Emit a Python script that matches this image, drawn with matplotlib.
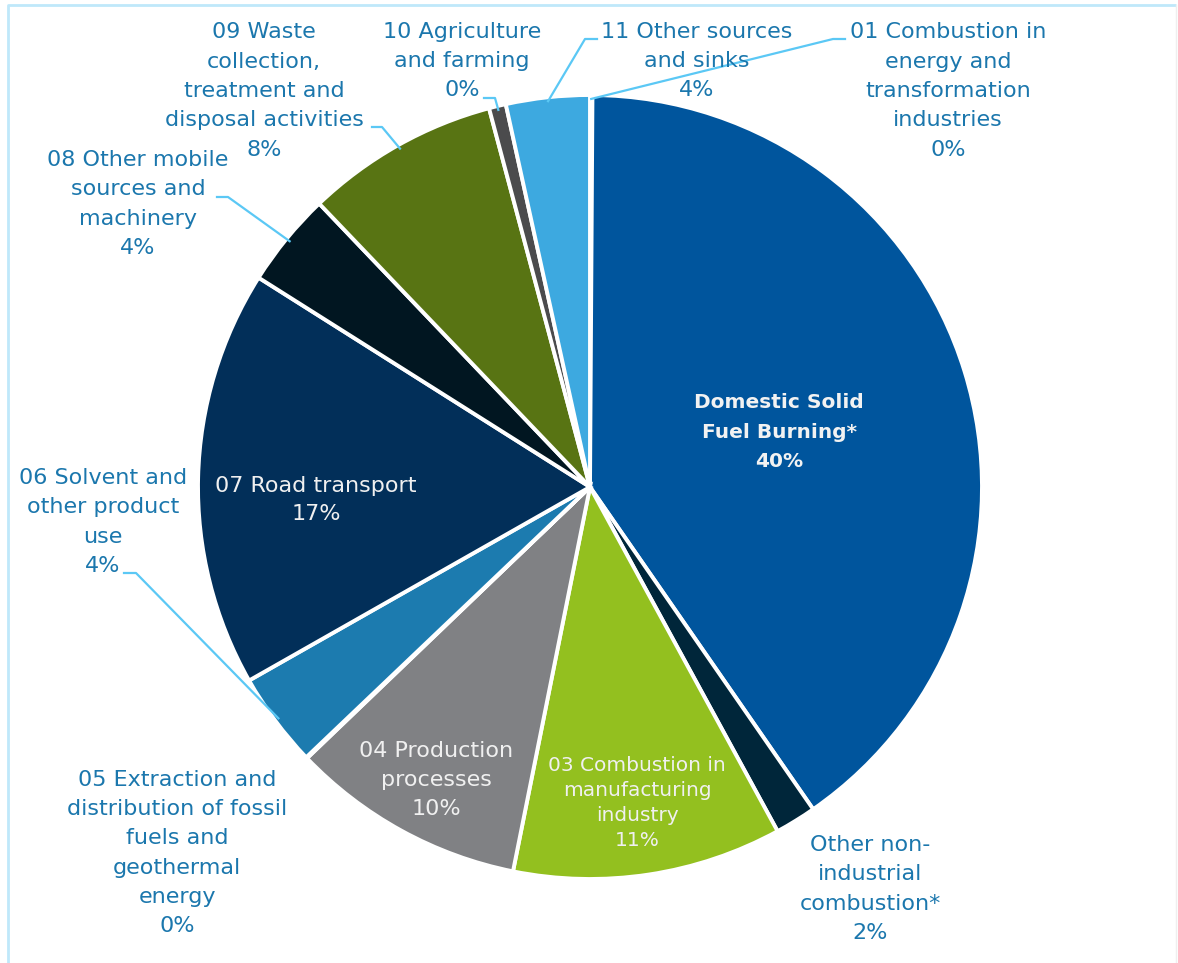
import numpy as np
import matplotlib.pyplot as plt

# sector shares (%), clockwise from 12 o'clock
sectors = [
    "01 Combustion in\nenergy and\ntransformation\nindustries",
    "Domestic Solid\nFuel Burning*",
    "Other non-\nindustrial\ncombustion*",
    "03 Combustion in\nmanufacturing\nindustry",
    "04 Production\nprocesses",
    "05 Extraction and\ndistribution of fossil\nfuels and\ngeothermal\nenergy",
    "06 Solvent and\nother product\nuse",
    "07 Road transport",
    "08 Other mobile\nsources and\nmachinery",
    "09 Waste\ncollection,\ntreatment and\ndisposal activities",
    "10 Agriculture\nand farming",
    "11 Other sources\nand sinks",
]
values = [0.1, 40.3, 1.7, 11.1, 9.7, 0.05, 3.9, 17.2, 3.9, 8.0, 0.7, 3.45]
pct_labels = ["0%", "40%", "2%", "11%", "10%", "0%", "4%", "17%", "4%", "8%", "0%", "4%"]
colors = ["#0B4F8A", "#00559D", "#00263A", "#93C01F", "#808184", "#6D8FB0",
          "#1C7BAF", "#022F59", "#011621", "#587413", "#4B4B4D", "#3DA9E0"]

W, H = 1178, 963
CX, CY, R = 590, 487, 392

# label centres in pixels
label_pos = [(948, 91), (779, 432), (870, 889), (637, 803), (436, 780), (177, 853),
             (103, 522), (316, 500), (138, 204), (264, 91), (462, 61), (697, 61)]
inside = [False, True, False, True, True, False, False, True, False, False, False, False]
# leader stubs (outer end, inner end) for the small outside slices
leaders = {0: ((845, 39), (833, 39)), 11: ((597, 39), (585, 39)),
           10: ((484, 98), (495, 98)), 9: ((372, 127), (382, 127)),
           8: ((217, 197), (228, 197)), 6: ((124, 573), (136, 573))}

plt.rcParams['font.family'] = ['DejaVu Sans']
fig = plt.figure(figsize=(W / 100, H / 100), dpi=100)
ax = fig.add_axes([0, 0, 1, 1])

# y axis is inverted, so counterclock in data = clockwise on screen
wedges, _ = ax.pie(values, colors=colors, startangle=-90, counterclock=True,
                   center=(CX, CY), radius=R, frame=True,
                   wedgeprops=dict(edgecolor='white', linewidth=2.8))
ax.set_xlim(0, W)
ax.set_ylim(H, 0)
ax.set_aspect('equal')
ax.axis('off')

# frame
ax.plot([8, 8, 1176], [H + 10, 5, 5], color='#BFE8FA', lw=2, solid_capstyle='butt')
ax.plot([1176, 1176], [5, H + 10], color='#EFEFEF', lw=1)

blue = '#1B77AD'
for i, (name, pct) in enumerate(zip(sectors, pct_labels)):
    x, y = label_pos[i]
    if i == 1:
        ax.text(x, y, name + "\n" + pct, ha='center', va='center', fontsize=14.5,
                fontweight='bold', color='#F2F2F2', linespacing=1.7)
    elif i == 3:
        ax.text(x, y, name + "\n" + pct, ha='center', va='center', fontsize=14.5,
                color='#F0F0F0', linespacing=1.4)
    elif inside[i]:
        ax.text(x, y, name + "\n" + pct, ha='center', va='center', fontsize=16,
                color='#F0F0F0', linespacing=1.55)
    else:
        ax.text(x, y, name + "\n" + pct, ha='center', va='center', fontsize=16,
                color=blue, linespacing=1.58)

for i, (p0, p1) in leaders.items():
    w = wedges[i]
    mid = np.deg2rad((w.theta1 + w.theta2) / 2)
    ex = CX + 0.99 * R * np.cos(mid)
    ey = CY + 0.99 * R * np.sin(mid)
    ax.plot([p0[0], p1[0], ex], [p0[1], p1[1], ey], color='#5BC8F5', lw=1.6)

fig.savefig('out.png', dpi=100, facecolor='white')
